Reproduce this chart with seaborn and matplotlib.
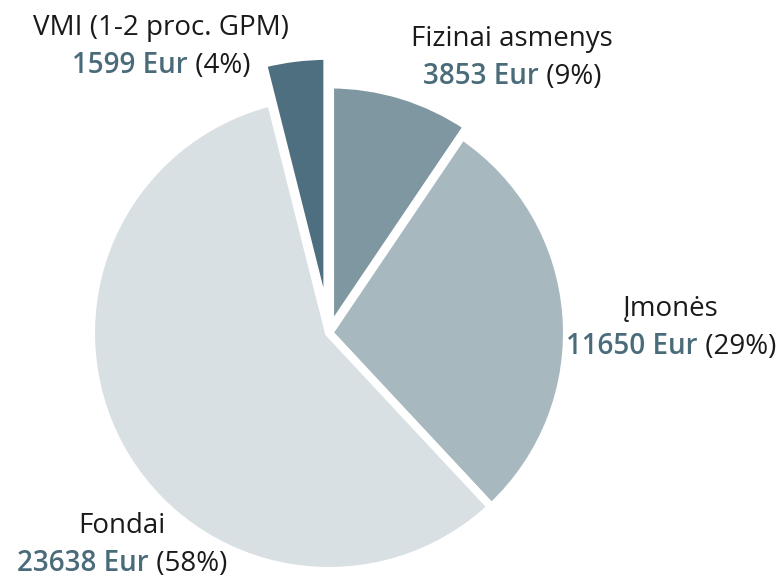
import matplotlib
matplotlib.use("Agg")
import matplotlib.pyplot as plt
import seaborn as sns
from matplotlib.offsetbox import TextArea, HPacker, VPacker, AnnotationBbox

# Data
categories = ["Fizinai asmenys", "Įmonės", "Fondai", "VMI (1-2 proc. GPM)"]
amounts = [3853, 11650, 23638, 1599]
currency = "Eur"

# Styles
slice_colors = ["#7f97a1", "#a7b8bf", "#d9e0e3", "#4d6f7f"]
value_color = "#4a6b7a"
text_color = "#1a1a1a"
explode = [0.015, 0, 0, 0.055]
radius_scale = [1.03, 1.0, 1.0, 1.11]
# label block centres as figure fractions (x, y from bottom)
label_pos = [(512 / 779, 1 - 58 / 580), (671 / 779, 1 - 328 / 580),
             (122 / 779, 1 - 545 / 580), (161 / 779, 1 - 47 / 580)]
fs = 20

sns.set_theme(style="white")
plt.rcParams["font.family"] = ["Open Sans", "DejaVu Sans"]

fig = plt.figure(figsize=(7.79, 5.8), dpi=100)
ax = fig.add_axes([0, 0, 1, 1])

R = 238.0          # pie radius in pixels
cx, cy = 329, 333  # pie centre in pixels (from top-left)

wedges, _ = ax.pie(amounts, colors=slice_colors, startangle=90, counterclock=False,
                   explode=explode, radius=1.0,
                   wedgeprops=dict(edgecolor="white", linewidth=5.8))
for w, s in zip(wedges, radius_scale):
    w.set_radius(s)

ax.set_xlim(-cx / R, (779 - cx) / R)
ax.set_ylim(-(580 - cy) / R, cy / R)
ax.set_aspect("equal", adjustable="box")
ax.axis("off")

total = sum(amounts)
for name, amt, pos in zip(categories, amounts, label_pos):
    pct = round(100 * amt / total)
    line1 = TextArea(name, textprops=dict(color=text_color, fontsize=fs))
    val = TextArea(f"{amt} {currency}", textprops=dict(color=value_color, fontsize=fs,
                                                       fontweight="semibold"))
    per = TextArea(f" ({pct}%)", textprops=dict(color=text_color, fontsize=fs))
    line2 = HPacker(children=[val, per], align="baseline", pad=0, sep=0)
    block = VPacker(children=[line1, line2], align="center", pad=0, sep=6)
    ab = AnnotationBbox(block, pos, xycoords="figure fraction", frameon=False,
                        box_alignment=(0.5, 0.5), pad=0)
    ax.add_artist(ab)

fig.savefig("out.png", dpi=100, facecolor="white")
